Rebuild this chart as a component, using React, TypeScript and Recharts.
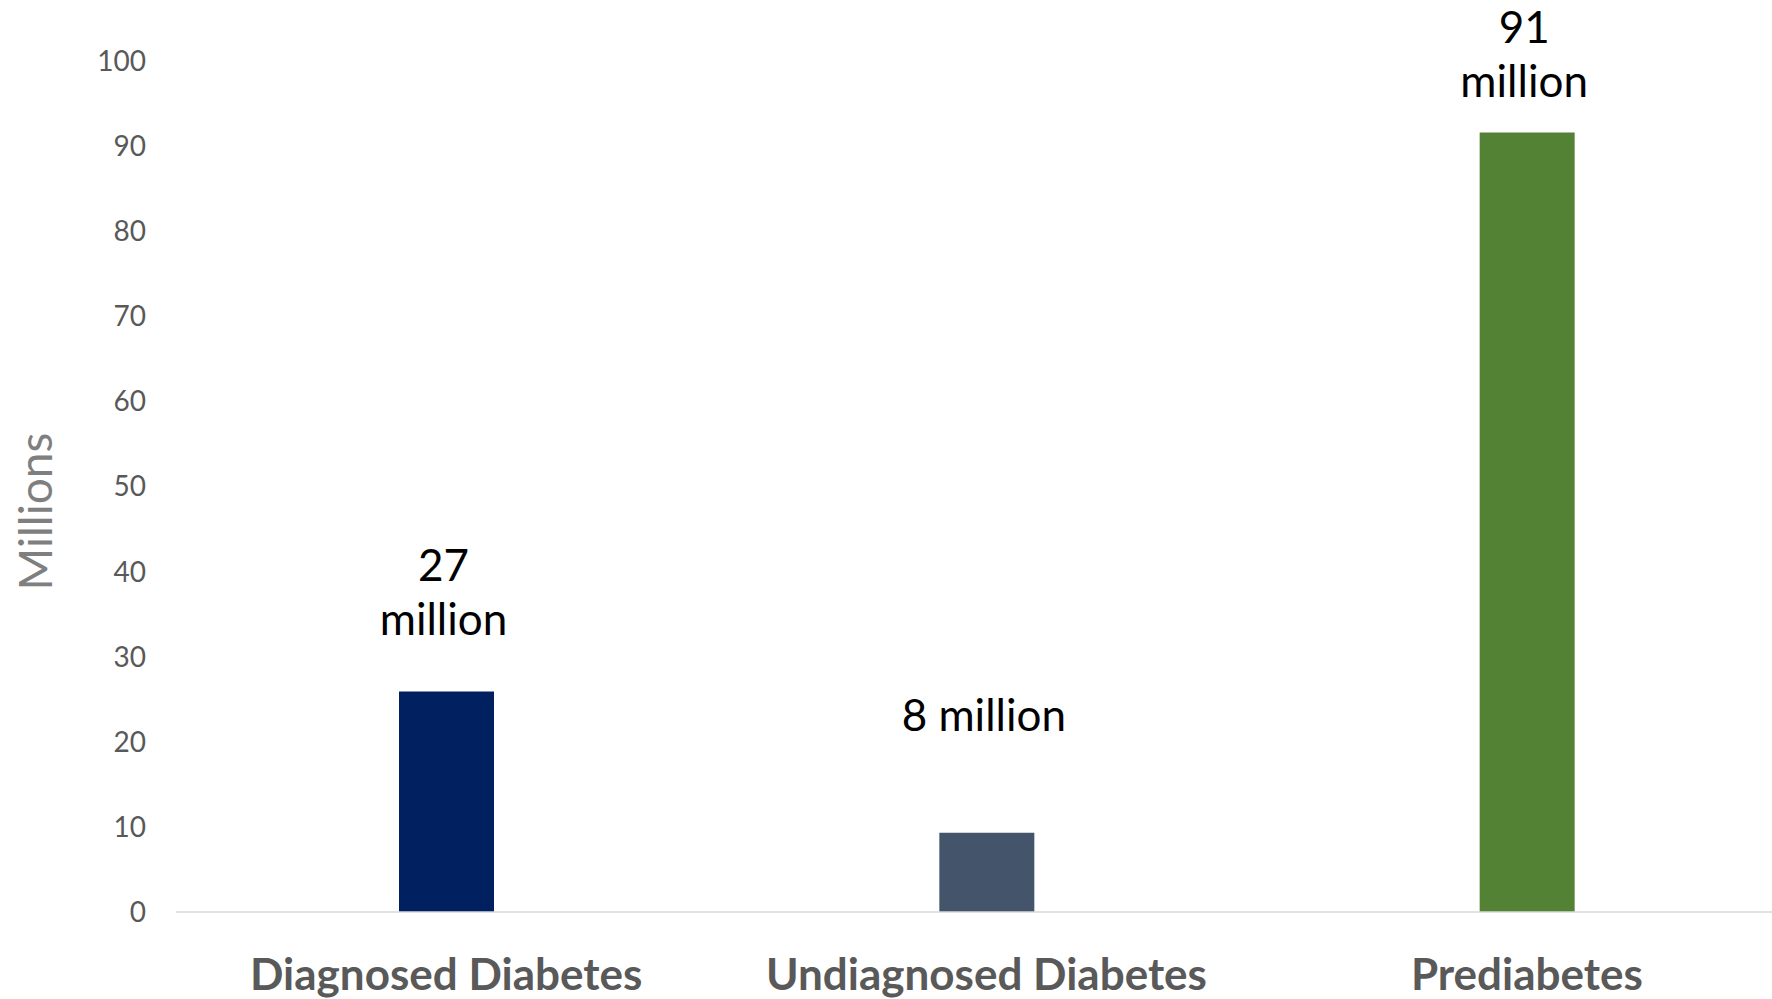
import { BarChart, Bar, XAxis, YAxis, Cell, LabelList } from "recharts";

// Values (bar heights in millions)
const categories = ["Diagnosed Diabetes", "Undiagnosed Diabetes", "Prediabetes"];
const millions = [25.9, 9.3, 91.6];
const labelLines = [["27", "million"], ["8 million"], ["91", "million"]];
const yTicks = [0, 10, 20, 30, 40, 50, 60, 70, 80, 90, 100];

const data = categories.map((name, i) => ({ name, value: millions[i] }));

// styling
const FONT = "Lato, 'Liberation Sans', sans-serif";
const BAR_COLORS = ["#002060", "#44546A", "#548235"];
// distance from bar top to last label baseline, per bar (labels sit differently in the original)
const LABEL_GAP = [57, 102, 35];
const LINE_H = 54;

const renderBarLabel = (props: any) => {
  const { x, y, width, value } = props;
  const i = categories.indexOf(value);
  if (i < 0) return null;
  const lines = labelLines[i];
  const cx = Number(x) + Number(width) / 2 - 3;
  const last = Number(y) - LABEL_GAP[i];
  return (
    <text textAnchor="middle" fontFamily={FONT} fontSize={44} fill="#000000">
      {lines.map((l, k) => (
        <tspan key={k} x={cx} y={last - (lines.length - 1 - k) * LINE_H}>
          {l}
        </tspan>
      ))}
    </text>
  );
};

const CategoryTick = ({ x, y, payload }: any) => (
  <text
    x={x}
    y={y + 78}
    textAnchor="middle"
    fontFamily={FONT}
    fontWeight="bold"
    fontSize={44}
    fill="#595959"
  >
    {payload.value}
  </text>
);

const AxisTitle = ({ viewBox }: any) => {
  const tx = viewBox.x + 52;
  const ty = viewBox.y + viewBox.height / 2 + 25;
  return (
    <text
      x={tx}
      y={ty}
      transform={`rotate(-90, ${tx}, ${ty})`}
      textAnchor="middle"
      fontFamily={FONT}
      fontSize={46}
      fill="#7F7F7F"
    >
      Millions
    </text>
  );
};

export default function App() {
  return (
    <div
      style={{
        position: "fixed",
        left: 0,
        top: 0,
        width: 1772,
        height: 999,
        overflow: "hidden",
        background: "#ffffff",
      }}
    >
      <BarChart
        width={1797}
        height={999}
        data={data}
        margin={{ top: 61, right: 0, bottom: 0, left: 0 }}
      >
        <XAxis
          dataKey="name"
          height={87}
          interval={0}
          tickLine={false}
          tickSize={0}
          tickMargin={0}
          axisLine={{ stroke: "#D9D9D9", strokeWidth: 1.5 }}
          tick={<CategoryTick />}
        />
        <YAxis
          width={176}
          domain={[0, 100]}
          ticks={yTicks}
          interval={0}
          tickLine={false}
          axisLine={false}
          tickSize={0}
          tickMargin={30}
          tick={{ fill: "#595959", fontSize: 28, fontFamily: FONT }}
          label={<AxisTitle />}
        />
        <Bar dataKey="value" barSize={95} isAnimationActive={false}>
          {data.map((d, i) => (
            <Cell key={d.name} fill={BAR_COLORS[i]} />
          ))}
          <LabelList dataKey="name" content={renderBarLabel} />
        </Bar>
      </BarChart>
    </div>
  );
}
